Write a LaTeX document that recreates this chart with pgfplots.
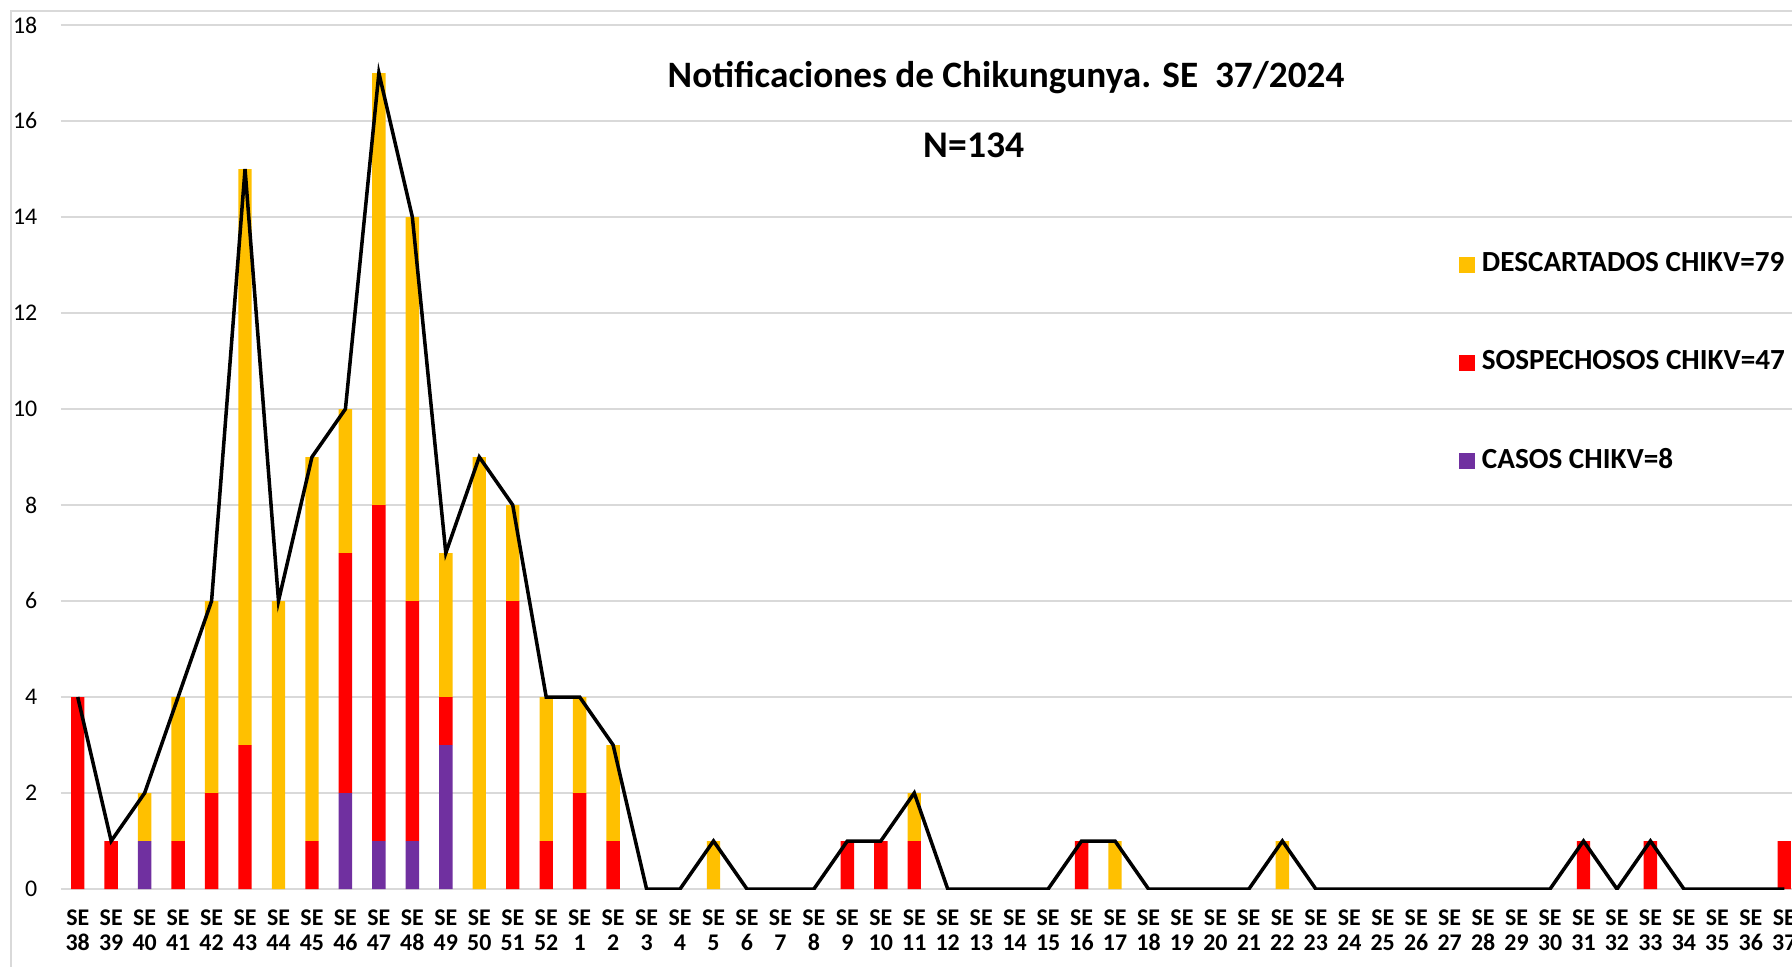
\documentclass[border=0pt]{standalone}
\usepackage{pgfplots}
\pgfplotsset{compat=1.18}
\usepackage{fontspec}
\setmainfont{Carlito}
\definecolor{cdesc}{HTML}{FFC000}
\definecolor{csosp}{HTML}{FF0000}
\definecolor{ccaso}{HTML}{7030A0}
\definecolor{cgrid}{HTML}{D9D9D9}

\pgfplotstableread{
x casos sosp desc linea
0 0 4 0 4
1 0 1 0 1
2 1 0 1 2
3 0 1 3 4
4 0 2 4 6
5 0 3 12 15
6 0 0 6 6
7 0 1 8 9
8 2 5 3 10
9 1 7 9 17
10 1 5 8 14
11 3 1 3 7
12 0 0 9 9
13 0 6 2 8
14 0 1 3 4
15 0 2 2 4
16 0 1 2 3
17 0 0 0 0
18 0 0 0 0
19 0 0 1 1
20 0 0 0 0
21 0 0 0 0
22 0 0 0 0
23 0 1 0 1
24 0 1 0 1
25 0 1 1 2
26 0 0 0 0
27 0 0 0 0
28 0 0 0 0
29 0 0 0 0
30 0 1 0 1
31 0 0 1 1
32 0 0 0 0
33 0 0 0 0
34 0 0 0 0
35 0 0 0 0
36 0 0 1 1
37 0 0 0 0
38 0 0 0 0
39 0 0 0 0
40 0 0 0 0
41 0 0 0 0
42 0 0 0 0
43 0 0 0 0
44 0 0 0 0
45 0 1 0 1
46 0 0 0 0
47 0 1 0 1
48 0 0 0 0
49 0 0 0 0
50 0 0 0 0
51 0 1 0 0
}\datatable

\pgfplotsset{
  sqleg/.style={legend image code/.code={\fill[##1] (0cm,-0.08cm) rectangle (0.16cm,0.08cm);}},
  base/.style={at={(0.61cm,0.77cm)}, anchor=south west, scale only axis,
    width=17.40cm, height=8.64cm, xmin=-0.5, xmax=51.5, ymin=0, ymax=18},
}

\begin{document}
\begin{tikzpicture}
\draw[cgrid, line width=0.6pt] (0.11,-1) rectangle (19.5,9.55);
\begin{axis}[base,
  ybar stacked, bar width=0.4,
  axis line style={draw=none}, major tick length=0pt,
  ytick={0,2,...,18},
  ymajorgrids, grid style={cgrid, line width=0.5pt},
  /pgf/number format/assume math mode=true,
  yticklabel style={font=\fontsize{6.8}{7}\selectfont, inner sep=0pt, anchor=east, xshift=-0.23cm},
  xtick={0,...,51},
  xticklabels={{SE\\38},{SE\\39},{SE\\40},{SE\\41},{SE\\42},{SE\\43},{SE\\44},{SE\\45},{SE\\46},{SE\\47},{SE\\48},{SE\\49},{SE\\50},{SE\\51},{SE\\52},{SE\\1},{SE\\2},{SE\\3},{SE\\4},{SE\\5},{SE\\6},{SE\\7},{SE\\8},{SE\\9},{SE\\10},{SE\\11},{SE\\12},{SE\\13},{SE\\14},{SE\\15},{SE\\16},{SE\\17},{SE\\18},{SE\\19},{SE\\20},{SE\\21},{SE\\22},{SE\\23},{SE\\24},{SE\\25},{SE\\26},{SE\\27},{SE\\28},{SE\\29},{SE\\30},{SE\\31},{SE\\32},{SE\\33},{SE\\34},{SE\\35},{SE\\36},{SE\\37}},
  xticklabel style={font=\bfseries\fontsize{6.8}{7.2}\selectfont, align=center, inner sep=0pt, anchor=north, yshift=-0.2cm},
  reverse legend,
  legend cell align=left,
  legend style={at={(axis cs:41.27,13.35)}, anchor=north west, draw=none, fill=none,
    font=\bfseries\fontsize{8.3}{9}\selectfont, row sep=0.665cm, inner sep=0pt,
    nodes={inner sep=1pt}, column sep=0.03cm},
]
\addplot[fill=ccaso, draw=none, sqleg] table[x=x, y=casos]{\datatable};
\addlegendentry{CASOS CHIKV=8}
\addplot[fill=csosp, draw=none, sqleg] table[x=x, y=sosp]{\datatable};
\addlegendentry{SOSPECHOSOS CHIKV=47}
\addplot[fill=cdesc, draw=none, sqleg] table[x=x, y=desc]{\datatable};
\addlegendentry{DESCARTADOS CHIKV=79}
\end{axis}
\begin{axis}[base, hide axis]
\addplot[black, line width=1.0pt, mark=none, sharp plot] table[x=x, y=linea]{\datatable};
\end{axis}
\node[font=\bfseries\fontsize{10.6}{12}\selectfont] at (10.06,8.88) {Notificaciones de Chikungunya. SE\ \ 37/2024};
\node[font=\bfseries\fontsize{10.7}{12}\selectfont] at (9.74,8.21) {N=134};
\pgfresetboundingbox
\path[use as bounding box] (0,0) rectangle (17.92,9.66);
\end{tikzpicture}
\end{document}
